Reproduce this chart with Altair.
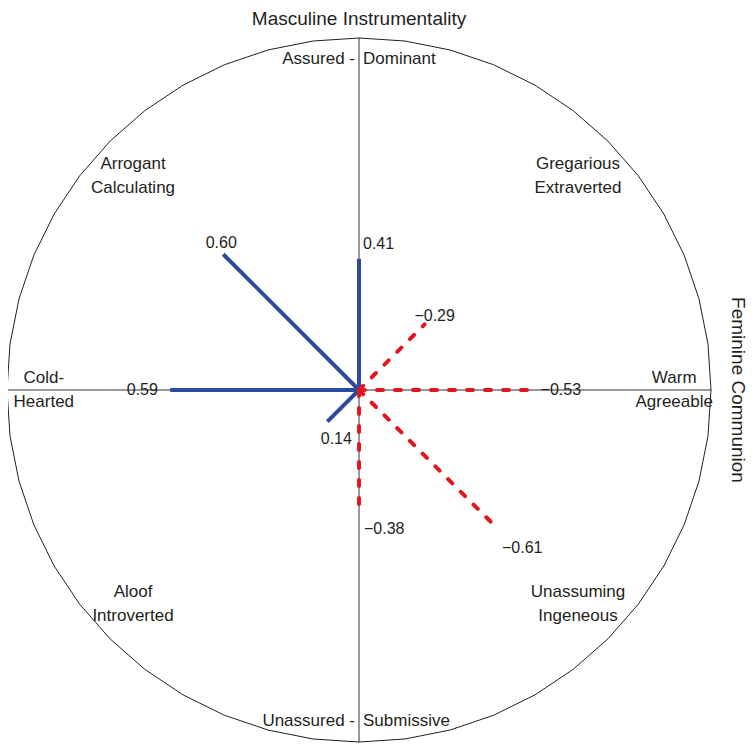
import math
import altair as alt
import pandas as pd

# ---------------- data ----------------
octant_labels = [
    ["Assured -", "Dominant"],
    ["Gregarious", "Extraverted"],
    ["Warm", "Agreeable"],
    ["Unassuming", "Ingeneous"],
    ["Unassured -", "Submissive"],
    ["Aloof", "Introverted"],
    ["Cold-", "Hearted"],
    ["Arrogant", "Calculating"],
]
octant_angles = [90, 45, 0, 315, 270, 225, 180, 135]
loadings = [0.41, -0.29, -0.53, -0.61, -0.38, 0.14, 0.59, 0.60]
vertical_axis_title = "Masculine Instrumentality"
horizontal_axis_title = "Feminine Communion"

# ---------------- layout / style ----------------
W, H = 740, 735
PX = 320.0            # pixels per loading unit
CX, CY = 351.0, 382.0 # centre of the circumplex inside the view
CIRCLE_R = 1.1
N_SIDES = 48
BLUE = "#2d4b9e"
RED = "#e3161d"
INK = "#231f20"
FONT = "Liberation Sans"

# value-label offsets from the end of each spoke (px) and alignment
label_dx = [4, 10, 12, 5, 5, 9, -28, -2]
label_dy = [-15, -8, 0, 20, 17, 17, 0, -11]
label_align = ["left", "center", "left", "left", "left", "center", "center", "center"]
# octant label centre offsets (px from centre) by orientation
DIAG_DX_LEFT, DIAG_DX_RIGHT, DIAG_DY = 226, 219, 214
R_HORIZ, R_VERT = 0.985, 1.035
LINE_GAP = 12.0


def ux(px):
    return (px - CX) / PX


def uy(py):
    return (CY - py) / PX


xs = alt.Scale(domain=[ux(0), ux(W)], nice=False, zero=False)
ys = alt.Scale(domain=[uy(H), uy(0)], nice=False, zero=False)


def X(f):
    return alt.X(f, type="quantitative", scale=xs, axis=None)


def Y(f):
    return alt.Y(f, type="quantitative", scale=ys, axis=None)


# circle (polygon)
circle_df = pd.DataFrame(
    [
        {"k": k,
         "x": CIRCLE_R * math.cos(2 * math.pi * k / N_SIDES + math.pi / 2),
         "y": CIRCLE_R * math.sin(2 * math.pi * k / N_SIDES + math.pi / 2)}
        for k in range(N_SIDES + 1)
    ]
)
circle = alt.Chart(circle_df).mark_line(color=INK, strokeWidth=1).encode(
    x=X("x"), y=Y("y"), order="k:Q"
)

# axis rules
rules_df = pd.DataFrame(
    [
        {"x": 0.0, "y": -CIRCLE_R, "x2": 0.0, "y2": CIRCLE_R},
        {"x": -CIRCLE_R, "y": 0.0, "x2": CIRCLE_R, "y2": 0.0},
    ]
)
rules = alt.Chart(rules_df).mark_rule(color="#333333", strokeWidth=1).encode(
    x=X("x"), y=Y("y"), x2="x2:Q", y2="y2:Q"
)

# spokes
spoke_rows = []
for i, (ang, v) in enumerate(zip(octant_angles, loadings)):
    a = math.radians(ang)
    for pt, r in enumerate([0.0, abs(v)]):
        spoke_rows.append({"i": i, "pt": pt, "x": r * math.cos(a), "y": r * math.sin(a),
                           "sign": "pos" if v > 0 else "neg"})
spokes_df = pd.DataFrame(spoke_rows)

blue = alt.Chart(spokes_df[spokes_df["sign"] == "pos"]).mark_line(
    color=BLUE, strokeWidth=4, strokeCap="butt"
).encode(x=X("x"), y=Y("y"), detail="i:N", order="pt:Q")

red = alt.Chart(spokes_df[spokes_df["sign"] == "neg"]).mark_line(
    color=RED, strokeWidth=4, strokeDash=[6, 12], strokeCap="round"
).encode(x=X("x"), y=Y("y"), detail="i:N", order="pt:Q")

# value labels
val_rows = []
for i, (ang, v) in enumerate(zip(octant_angles, loadings)):
    a = math.radians(ang)
    ex = CX + abs(v) * PX * math.cos(a)
    ey = CY - abs(v) * PX * math.sin(a)
    txt = f"{v:.2f}".replace("-", "\u2212")
    val_rows.append({"text": txt, "x": ux(ex + label_dx[i]), "y": uy(ey + label_dy[i]),
                     "al": label_align[i]})
val_df = pd.DataFrame(val_rows)

# octant labels
oct_rows = []
for lines, ang in zip(octant_labels, octant_angles):
    a = math.radians(ang)
    if ang in (90, 270):
        cy_px = CY - R_VERT * PX * math.sin(a)
        oct_rows.append({"text": lines[0], "x": ux(CX - 4), "y": uy(cy_px), "al": "right"})
        oct_rows.append({"text": lines[1], "x": ux(CX + 4), "y": uy(cy_px), "al": "left"})
    else:
        if ang in (0, 180):
            cx_px = CX + R_HORIZ * PX * math.cos(a)
            cy_px = CY
        else:
            sx = 1 if math.cos(a) > 0 else -1
            sy = 1 if math.sin(a) > 0 else -1
            cx_px = CX + (DIAG_DX_RIGHT if sx > 0 else -DIAG_DX_LEFT)
            cy_px = CY - sy * DIAG_DY
        oct_rows.append({"text": lines[0], "x": ux(cx_px), "y": uy(cy_px - LINE_GAP), "al": "center"})
        oct_rows.append({"text": lines[1], "x": ux(cx_px), "y": uy(cy_px + LINE_GAP), "al": "center"})
oct_df = pd.DataFrame(oct_rows)


def text_layers(df, size):
    layers = []
    for al in ["left", "center", "right"]:
        sub = df[df["al"] == al]
        if len(sub):
            layers.append(
                alt.Chart(sub).mark_text(align=al, baseline="middle", font=FONT,
                                         fontSize=size, color=INK)
                .encode(x=X("x"), y=Y("y"), text="text:N")
            )
    return layers


title_df = pd.DataFrame([{"text": vertical_axis_title, "x": ux(CX), "y": uy(17)}])
title_top = alt.Chart(title_df).mark_text(
    align="center", baseline="alphabetic", font=FONT, fontSize=19, color=INK
).encode(x=X("x"), y=Y("y"), text="text:N")

side_df = pd.DataFrame([{"text": horizontal_axis_title, "x": ux(724), "y": uy(CY)}])
title_side = alt.Chart(side_df).mark_text(
    align="center", baseline="alphabetic", angle=90, font=FONT, fontSize=19, color=INK
).encode(x=X("x"), y=Y("y"), text="text:N")

chart = alt.layer(
    circle, rules, blue, red,
    *text_layers(val_df, 16),
    *text_layers(oct_df, 17),
    title_top, title_side,
).properties(
    width=W, height=H, padding=0,
    autosize=alt.AutoSizeParams(type="none"),
).configure_view(stroke=None)

chart.save("out.html", embed_options={"renderer": "svg", "actions": False})
